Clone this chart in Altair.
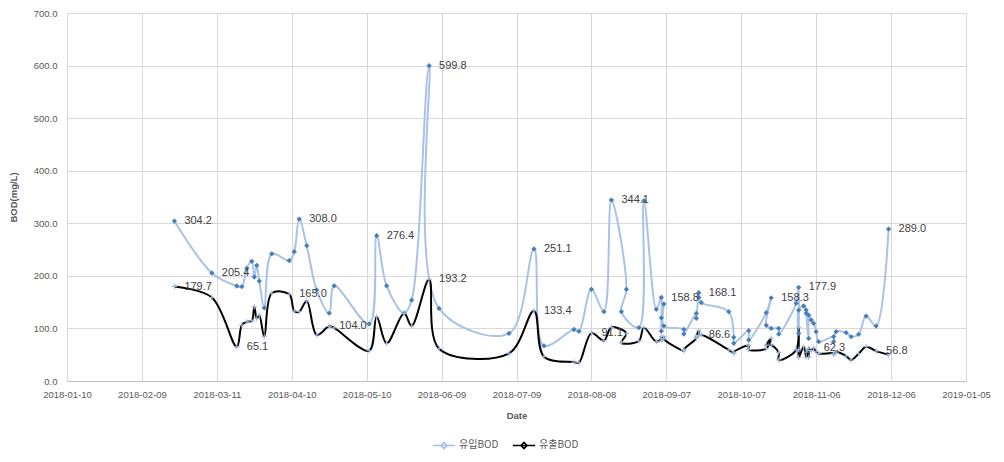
import altair as alt
import pandas as pd

# ---- data ----
dates = [
    "2018-02-22", "2018-03-09", "2018-03-19", "2018-03-21", "2018-03-23", "2018-03-25",
    "2018-03-26", "2018-03-27", "2018-03-28", "2018-03-30", "2018-04-02", "2018-04-09",
    "2018-04-11", "2018-04-13", "2018-04-16", "2018-04-20", "2018-04-25", "2018-04-27",
    "2018-05-11", "2018-05-14", "2018-05-18", "2018-05-25", "2018-05-28", "2018-06-04",
    "2018-06-08", "2018-07-06", "2018-07-16", "2018-07-20", "2018-08-01", "2018-08-03",
    "2018-08-08", "2018-08-13", "2018-08-16", "2018-08-22", "2018-08-20", "2018-08-27",
    "2018-08-29", "2018-09-03", "2018-09-05", "2018-09-05", "2018-09-05", "2018-09-06",
    "2018-09-06", "2018-09-14", "2018-09-14", "2018-09-19", "2018-09-19", "2018-09-20",
    "2018-09-20", "2018-09-21", "2018-10-02", "2018-10-04", "2018-10-04", "2018-10-10",
    "2018-10-10", "2018-10-17", "2018-10-19", "2018-10-17", "2018-10-19", "2018-10-22",
    "2018-10-22", "2018-10-29", "2018-10-30", "2018-10-30", "2018-10-30", "2018-11-01",
    "2018-11-02", "2018-11-02", "2018-11-03", "2018-11-03", "2018-11-04", "2018-11-05",
    "2018-11-06", "2018-11-07", "2018-11-13", "2018-11-13", "2018-11-14", "2018-11-18",
    "2018-11-20", "2018-11-23", "2018-11-26", "2018-11-30", "2018-12-05",
]
inflow_bod = [
    304.2, 205.4, 180.7, 179.4, 214.4, 227.7,
    197.8, 220.0, 190.0, 139.0, 242.0, 229.0,
    246.0, 308.0, 257.4, 173.0, 129.0, 181.0,
    108.4, 276.4, 181.0, 129.0, 154.0, 599.8,
    138.0, 90.7, 251.1, 67.0, 98.0, 94.5,
    174.4, 131.9, 344.1, 174.4, 131.9, 101.5,
    343.0, 136.4, 158.8, 120.0, 95.0, 146.5,
    105.0, 98.3, 89.4, 128.8, 119.3, 168.1,
    159.0, 149.0, 131.9, 83.0, 71.7, 95.7,
    78.0, 130.0, 158.3, 106.0, 100.0, 100.0,
    89.0, 147.8, 177.9, 90.7, 135.0, 142.7,
    135.0, 128.8, 81.0, 125.5, 116.0, 109.8,
    93.8, 74.8, 84.3, 74.8, 93.8, 91.9,
    84.3, 88.8, 123.6, 104.6, 289.0,
]
outflow_bod = [
    179.7, 159.0, 65.1, 106.5, 112.8, 114.7,
    141.0, 119.0, 125.0, 84.3, 166.8, 165.0,
    133.0, 132.0, 152.0, 87.5, 104.0, 101.0,
    57.6, 122.0, 71.7, 128.8, 104.6, 193.2,
    61.5, 52.7, 133.4, 46.3, 36.0, 34.8,
    91.1, 76.7, 102.0, 90.7, 72.9, 76.1,
    101.5, 74.8, 81.2, 85.0, 78.0, 84.3,
    80.0, 57.7, 60.0, 81.2, 84.0, 95.7,
    86.6, 88.0, 59.0, 52.7, 55.0, 67.2,
    60.0, 62.0, 81.2, 68.0, 68.5, 54.0,
    40.0, 59.0, 102.0, 60.0, 45.0, 65.0,
    45.0, 55.0, 45.0, 62.2, 58.0, 62.3,
    55.7, 52.0, 52.7, 50.0, 55.0, 47.5,
    40.0, 52.0, 65.3, 56.8, 50.0,
]
# rows that carry a data label in the reference
inflow_label_rows = [0, 1, 13, 19, 23, 26, 32, 38, 47, 56, 62, 82]
outflow_label_rows = [0, 2, 11, 16, 23, 26, 30, 48, 71, 81]

series_names = ["유입BOD", "유출BOD"]
x_tick_labels = ["2018-01-10", "2018-02-09", "2018-03-11", "2018-04-10", "2018-05-10",
                 "2018-06-09", "2018-07-09", "2018-08-08", "2018-09-07", "2018-10-07",
                 "2018-11-06", "2018-12-06", "2019-01-05"]
y_ticks = [0, 100, 200, 300, 400, 500, 600, 700]

# ---- tables ----
rows = []
for i, d in enumerate(dates):
    rows.append({"series": series_names[0], "date": d, "value": inflow_bod[i], "idx": i})
    rows.append({"series": series_names[1], "date": d, "value": outflow_bod[i], "idx": i})
df = pd.DataFrame(rows)

lab = [{"series": series_names[0], "date": dates[i], "value": inflow_bod[i]} for i in inflow_label_rows]
lab += [{"series": series_names[1], "date": dates[i], "value": outflow_bod[i]} for i in outflow_label_rows]
lab_df = pd.DataFrame(lab)

def ms(s):
    return int(pd.Timestamp(s).timestamp() * 1000)

x_ticks_ms = [ms(s) for s in x_tick_labels]

FONT = "Liberation Sans"
KFONT = "Noto Sans CJK KR"

x_enc = alt.X(
    "date:T",
    scale=alt.Scale(type="utc", domain=[x_ticks_ms[0], x_ticks_ms[-1]]),
    axis=alt.Axis(values=x_ticks_ms, format="%Y-%m-%d", title="Date",
                  labelPadding=8, titlePadding=12, ticks=False,
                  labelFlush=False, labelOverlap=False,
                  domainColor="#BFBFBF", labelAngle=0),
)
y_enc = alt.Y(
    "value:Q",
    scale=alt.Scale(domain=[0, 700], nice=False),
    axis=alt.Axis(values=y_ticks, format=".1f", title="BOD(mg/L)",
                  labelPadding=10, titlePadding=15, ticks=False, domain=False),
)

base = alt.Chart(df)

lines = base.mark_line(interpolate="catmull-rom", strokeWidth=2).encode(
    x=x_enc,
    y=y_enc,
    order="idx:Q",
    color=alt.Color(
        "series:N",
        scale=alt.Scale(domain=series_names, range=["#A9C2E8", "#000000"]),
        legend=alt.Legend(
            orient="none", legendX=365, legendY=420, direction="horizontal",
            title=None, symbolType="M-1,0H1M-0.28,0L0,-0.28L0.28,0L0,0.28Z",
            symbolSize=500, symbolStrokeWidth=1.5, labelFont=KFONT,
            labelFontSize=10, labelColor="#595959", columnPadding=10,
            labelOffset=3, padding=0,
        ),
    ),
)

pts_in = base.transform_filter(alt.datum.series == series_names[0]).mark_point(
    shape="diamond", filled=True, size=28, color="#4A7EBB", opacity=1
).encode(x="date:T", y="value:Q")

pts_out = base.transform_filter(alt.datum.series == series_names[1]).mark_point(
    shape="M-1,0H1M0,-1V1", filled=False, size=30, color="#9FB8DC",
    strokeWidth=1, opacity=1
).encode(x="date:T", y="value:Q")

labels = alt.Chart(lab_df).mark_text(
    align="left", baseline="middle", dx=10, font=FONT, fontSize=11, color="#404040"
).encode(
    x="date:T",
    y="value:Q",
    text=alt.Text("value:Q", format=".1f"),
)

chart = alt.layer(lines, pts_in, pts_out, labels).properties(
    width=899, height=368,
    autosize="none",
    padding={"left": 59, "top": 5, "right": 30, "bottom": 73},
).configure_view(
    strokeWidth=0
).configure_axis(
    gridColor="#D9D9D9", gridWidth=1,
    labelFont=FONT, labelFontSize=9.5, labelColor="#595959",
    titleFont=FONT, titleFontSize=9.5, titleColor="#595959", titleFontWeight="bold",
)

chart.save("out.html", embed_options={"renderer": "svg", "actions": False})
